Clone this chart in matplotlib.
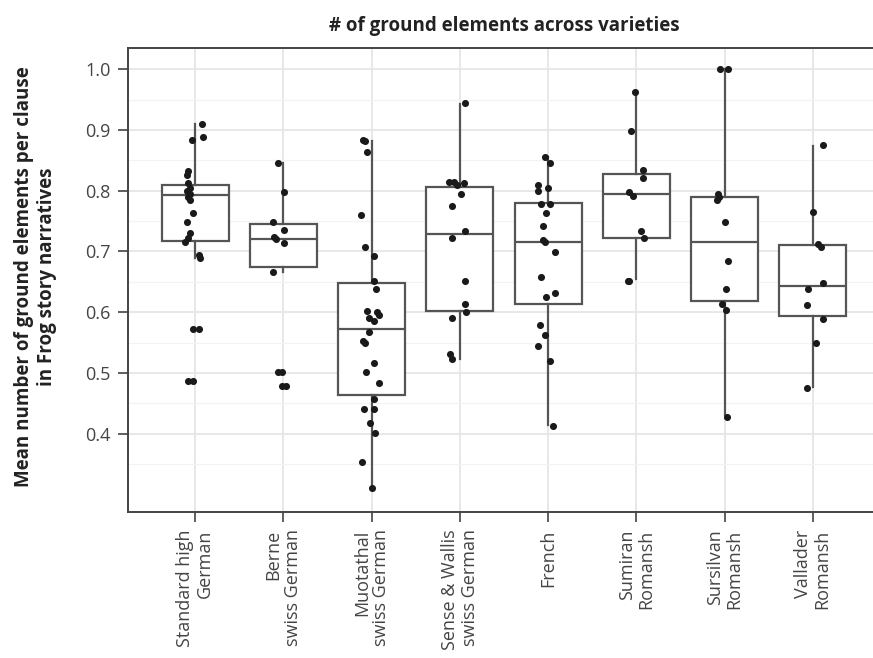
import numpy as np
import matplotlib
matplotlib.use("Agg")
import matplotlib.pyplot as plt

plt.rcParams['font.family'] = ['Open Sans', 'DejaVu Sans']

# varieties (x categories)
varieties = ["Standard high\nGerman", "Berne\nswiss German", "Muotathal\nswiss German",
             "Sense & Wallis\nswiss German", "French", "Sumiran\nRomansh",
             "Sursilvan\nRomansh", "Vallader\nRomansh"]

# box statistics
whislo = [0.690, 0.666, 0.310, 0.523, 0.414, 0.654, 0.430, 0.477]
q1     = [0.718, 0.675, 0.463, 0.602, 0.613, 0.723, 0.618, 0.594]
med    = [0.793, 0.721, 0.573, 0.728, 0.716, 0.794, 0.715, 0.643]
q3     = [0.810, 0.746, 0.648, 0.806, 0.780, 0.827, 0.789, 0.710]
whishi = [0.910, 0.845, 0.882, 0.943, 0.855, 0.961, 1.000, 0.873]

# individual narratives (mean per speaker) and their jitter offsets
pts = [
    [0.910, 0.888, 0.884, 0.832, 0.826, 0.812, 0.805, 0.800, 0.795, 0.790, 0.785,
     0.764, 0.749, 0.730, 0.722, 0.715, 0.695, 0.690, 0.572, 0.572, 0.486, 0.486],
    [0.845, 0.798, 0.749, 0.735, 0.724, 0.720, 0.714, 0.666, 0.502, 0.502, 0.479, 0.479],
    [0.884, 0.882, 0.864, 0.760, 0.707, 0.693, 0.652, 0.638, 0.602, 0.600, 0.596,
     0.590, 0.585, 0.567, 0.552, 0.549, 0.517, 0.502, 0.483, 0.457, 0.440, 0.440,
     0.418, 0.401, 0.354, 0.310],
    [0.944, 0.814, 0.814, 0.812, 0.810, 0.794, 0.775, 0.734, 0.722, 0.652, 0.614,
     0.600, 0.590, 0.531, 0.523],
    [0.856, 0.845, 0.810, 0.805, 0.800, 0.778, 0.778, 0.764, 0.742, 0.719, 0.716,
     0.699, 0.658, 0.631, 0.625, 0.579, 0.563, 0.545, 0.519, 0.412],
    [0.962, 0.898, 0.834, 0.821, 0.798, 0.791, 0.734, 0.722, 0.652, 0.652],
    [1.000, 1.000, 0.795, 0.790, 0.785, 0.749, 0.685, 0.638, 0.613, 0.604, 0.428],
    [0.876, 0.765, 0.712, 0.708, 0.648, 0.638, 0.612, 0.589, 0.549, 0.475],
]
jit = [
    [0.08, 0.09, -0.04, -0.08, -0.09, -0.08, -0.06, -0.09, -0.06, -0.08, -0.06,
     -0.02, -0.09, -0.06, -0.08, -0.11, 0.04, 0.06, -0.02, 0.04, -0.08, -0.02],
    [-0.06, 0.01, -0.12, 0.01, -0.10, -0.08, 0.01, -0.12, -0.06, -0.01, -0.01, 0.03],
    [-0.10, -0.07, -0.05, -0.12, -0.08, 0.03, 0.03, 0.05, -0.05, 0.06, 0.08,
     -0.03, 0.03, -0.03, -0.10, -0.07, 0.03, -0.06, 0.08, 0.03, -0.09, 0.03,
     -0.02, 0.04, -0.11, 0.01],
    [0.06, -0.12, -0.07, 0.05, -0.03, 0.01, -0.09, 0.06, -0.09, 0.06, 0.06,
     0.07, -0.09, -0.11, -0.09],
    [-0.04, 0.02, -0.12, 0.00, -0.11, -0.08, 0.02, -0.02, -0.06, -0.06, -0.04,
     0.08, -0.08, 0.08, -0.02, -0.09, -0.03, -0.11, 0.02, 0.06],
    [-0.02, -0.06, 0.08, 0.08, -0.08, -0.04, 0.05, 0.09, -0.08, -0.10],
    [-0.05, 0.04, -0.08, -0.06, -0.09, 0.00, 0.04, 0.02, -0.03, 0.02, 0.03],
    [0.11, 0.00, 0.06, 0.09, 0.11, -0.05, -0.07, 0.11, 0.03, -0.07],
]

fig = plt.figure(figsize=(8.73, 6.58), dpi=100)
ax = fig.add_axes([0.1466, 0.2219, 0.8614, 0.7051])

# grid
ax.set_axisbelow(True)
ax.set_yticks(np.arange(0.35, 1.0, 0.1), minor=True)
ax.grid(which='major', color='#e6e6e6', linewidth=1.3)
ax.grid(which='minor', axis='y', color='#f3f3f3', linewidth=0.9)

stats = []
for i in range(len(varieties)):
    stats.append(dict(whislo=whislo[i], q1=q1[i], med=med[i], q3=q3[i],
                      whishi=whishi[i], fliers=[]))
edge = '#555555'
ax.bxp(stats, positions=range(len(varieties)), widths=0.76, showfliers=False,
       showcaps=False, patch_artist=True,
       boxprops=dict(facecolor='white', edgecolor=edge, linewidth=1.6),
       medianprops=dict(color=edge, linewidth=1.6),
       whiskerprops=dict(color=edge, linewidth=1.6))

for i, (p, j) in enumerate(zip(pts, jit)):
    ax.scatter(i + np.array(j), p, s=26, color='#1a1a1a', zorder=4, linewidths=0)

ax.set_xlim(-0.76, 7.76)
ax.set_ylim(0.271, 1.035)
ax.set_yticks([0.4, 0.5, 0.6, 0.7, 0.8, 0.9, 1.0])
ax.set_yticklabels(['0.4', '0.5', '0.6', '0.7', '0.8', '0.9', '1.0'])
ax.set_xticks(range(len(varieties)))
ax.set_xticklabels(varieties, rotation=90, ha='center', va='top',
                   multialignment='right', linespacing=1.1)

ax.tick_params(axis='both', which='major', length=7.5, width=1.1, color='#333333',
               labelsize=13, labelcolor='#444444', pad=5)
ax.tick_params(axis='y', which='minor', length=0)
for s in ax.spines.values():
    s.set_color('#444444')
    s.set_linewidth(1.4)
ax.spines['right'].set_visible(False)

ax.set_title('# of ground elements across varieties', fontsize=13.5, fontweight='bold',
             color='#222222', pad=12)
fig.text(36 / 873, 1 - 277 / 658,
         'Mean number of ground elements per clause\nin Frog story narratives',
         rotation=90, ha='center', va='center', multialignment='center',
         fontsize=13.5, fontweight='bold', color='#222222', linespacing=1.2)

fig.savefig('out.png', dpi=100)
